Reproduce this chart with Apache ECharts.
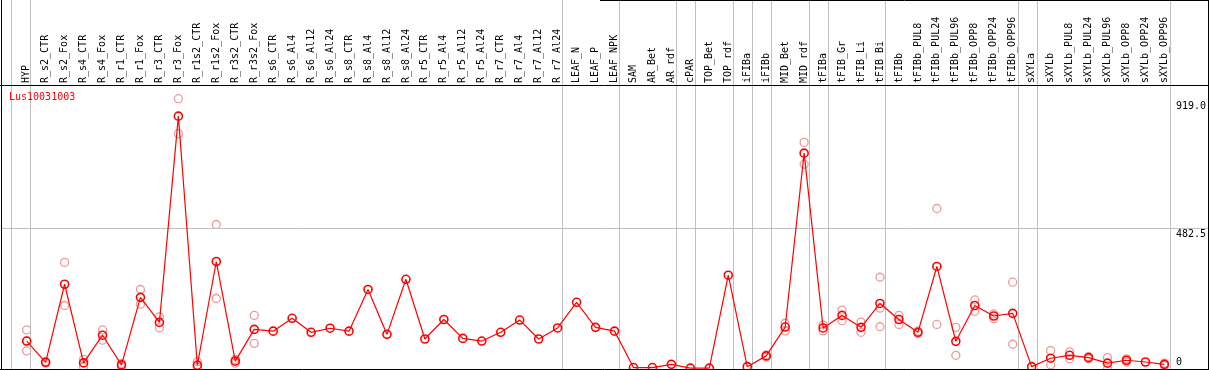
<!DOCTYPE html>
<html>
<head>
<meta charset="utf-8">
<script src="https://cdn.jsdelivr.net/npm/echarts@6/dist/echarts.min.js"></script>
<style>
html,body{margin:0;padding:0;background:#fff;}
#chart{width:1209px;height:370px;}
</style>
</head>
<body>
<div id="chart"></div>
<script>
const geneName = 'Lus10031003';
const categories = ['HYP','R_s2_CTR','R_s2_Fox','R_s4_CTR','R_s4_Fox','R_r1_CTR','R_r1_Fox','R_r3_CTR','R_r3_Fox','R_r1s2_CTR','R_r1s2_Fox','R_r3s2_CTR','R_r3s2_Fox','R_s6_CTR','R_s6_Al4','R_s6_Al12','R_s6_Al24','R_s8_CTR','R_s8_Al4','R_s8_Al12','R_s8_Al24','R_r5_CTR','R_r5_Al4','R_r5_Al12','R_r5_Al24','R_r7_CTR','R_r7_Al4','R_r7_Al12','R_r7_Al24','LEAF_N','LEAF_P','LEAF_NPK','SAM','AR_Bet','AR_rdf','cPAR','TOP_Bet','TOP_rdf','iFIBa','iFIBb','MID_Bet','MID_rdf','tFIBa','tFIB_Gr','tFIB_Li','tFIB_Bi','tFIBb','tFIBb_PUL8','tFIBb_PUL24','tFIBb_PUL96','tFIBb_OPP8','tFIBb_OPP24','tFIBb_OPP96','sXYLa','sXYLb','sXYLb_PUL8','sXYLb_PUL24','sXYLb_PUL96','sXYLb_OPP8','sXYLb_OPP24','sXYLb_OPP96'];
const meanValues = [96,23,291,21,116,14,246,160,868,13,369,27,136,130,174,126,140,130,273,119,308,103,170,105,96,126,168,103,141,229,143,130,5,5,16,3,3,322,8,45,144,741,141,184,143,225,170,126,352,95,218,182,191,8,37,47,39,20,30,24,16];
const replicates = [[134,96,62],[26,20],[366,218],[33,8],[134,99],[19,8],[273,222],[179,142],[928,808],[25,6],[496,242],[33,20],[184,88],
  [],[],[],[],[],[],[],[],[],[],[],[],[],[],[],[],[],[],[],[],[],[],[],[],[],[],
  [48,41],[157,131],[778,703],[151,131],[202,166],[161,126],[315,209,145],[184,153],[130,122],[551,153],[143,47],[237,198],[189,173],[298,85],
  [],[63,14],[59,35],[42,35],[39,1],[35,24],[],[20,12]];
// group separators: drawn after these category numbers (1-based; 0 = before first)
const groupEnds = [0,1,29,32,35,36,38,39,40,42,43,46,53,54,61];
const yTickValues = [0, 482.5, 919];
const yTickLabels = ['0', '482.5', '919.0'];
const midGridValue = 482.5;

const MONO = '"DejaVu Sans Mono", "Liberation Mono", monospace';

const repData = [];
replicates.forEach((arr, i) => arr.forEach(v => repData.push([i, v])));

const chart = echarts.init(document.getElementById('chart'), null, {renderer: 'canvas'});
chart.setOption({
  animation: false,
  backgroundColor: '#ffffff',
  title: {
    text: geneName, left: 9, top: 92, padding: 0,
    textStyle: {color: '#ff0000', fontFamily: MONO, fontSize: 10, fontWeight: 'normal'}
  },
  grid: [
    {left: 17.2, right: 32.8, top: 85, bottom: 1},
    {left: 1, right: 1, top: 85, bottom: 1},
    {left: 7.7, right: 23.3, top: 0, bottom: 1}
  ],
  xAxis: [
    {
      type: 'category', gridIndex: 0, position: 'top', data: categories, boundaryGap: true,
      axisLine: {show: false}, axisTick: {show: false}, splitLine: {show: false},
      axisLabel: {rotate: 90, margin: 2, interval: 0, color: '#000', fontFamily: MONO, fontSize: 10}
    },
    {type: 'value', gridIndex: 1, min: 0, max: 1, show: false},
    {type: 'value', gridIndex: 2, min: 0, max: 62, show: false}
  ],
  yAxis: [
    {
      type: 'value', gridIndex: 0, position: 'right', min: 0, max: 975,
      axisLine: {show: false}, axisTick: {show: false}, splitLine: {show: false},
      axisLabel: {
        customValues: yTickValues, margin: 2, align: 'left', verticalAlign: 'middle',
        color: '#000', fontFamily: MONO, fontSize: 10,
        formatter: function (v) {
          const idx = yTickValues.indexOf(v);
          const t = idx >= 0 ? yTickLabels[idx] : String(v);
          return v === 0 ? '{b|' + t + '}' : '{t|' + t + '}';
        },
        rich: {
          t: {padding: [11, 0, 0, 0], fontFamily: MONO, fontSize: 10, color: '#000'},
          b: {padding: [0, 0, 13, 0], fontFamily: MONO, fontSize: 10, color: '#000'}
        }
      }
    },
    {type: 'value', gridIndex: 1, min: 0, max: 975, show: false},
    {type: 'value', gridIndex: 2, min: 0, max: 1, show: false}
  ],
  series: [
    {
      type: 'line', xAxisIndex: 2, yAxisIndex: 2, data: [], silent: true, z: 1,
      markLine: {
        silent: true, symbol: ['none', 'none'], label: {show: false},
        lineStyle: {color: '#c0c0c0', width: 1, type: 'solid'},
        data: groupEnds.map(k => ({xAxis: k + 0.2}))
      }
    },
    {
      type: 'line', xAxisIndex: 1, yAxisIndex: 1, data: [], silent: true, z: 1,
      markLine: {
        silent: true, symbol: ['none', 'none'], label: {show: false},
        lineStyle: {color: '#c0c0c0', width: 1, type: 'solid'},
        data: [{yAxis: midGridValue}]
      }
    },
    {
      type: 'scatter', xAxisIndex: 0, yAxisIndex: 0, data: repData, z: 3,
      symbol: 'circle', symbolSize: 8,
      itemStyle: {color: 'rgba(0,0,0,0)', borderColor: '#ec9a9a', borderWidth: 1.3, opacity: 1}
    },
    {
      type: 'line', xAxisIndex: 0, yAxisIndex: 0, data: meanValues, z: 5,
      symbol: 'circle', symbolSize: 8, showAllSymbol: true,
      lineStyle: {color: '#ff0000', width: 1.2},
      itemStyle: {color: 'rgba(0,0,0,0)', borderColor: '#ff0000', borderWidth: 1.6}
    }
  ],
  graphic: [
    {type: 'line', z: 100, shape: {x1: 0, y1: 85.5, x2: 1209, y2: 85.5}, style: {stroke: '#000', lineWidth: 1}},
    {type: 'line', z: 100, shape: {x1: 0, y1: 369.5, x2: 1209, y2: 369.5}, style: {stroke: '#000', lineWidth: 1}},
    {type: 'line', z: 100, shape: {x1: 1.5, y1: 0, x2: 1.5, y2: 370}, style: {stroke: '#000', lineWidth: 1}},
    {type: 'line', z: 100, shape: {x1: 1208.5, y1: 0, x2: 1208.5, y2: 370}, style: {stroke: '#000', lineWidth: 1}},
    {type: 'line', z: 100, shape: {x1: 600, y1: 0.5, x2: 1209, y2: 0.5}, style: {stroke: '#000', lineWidth: 1}}
  ]
});
</script>
</body>
</html>
